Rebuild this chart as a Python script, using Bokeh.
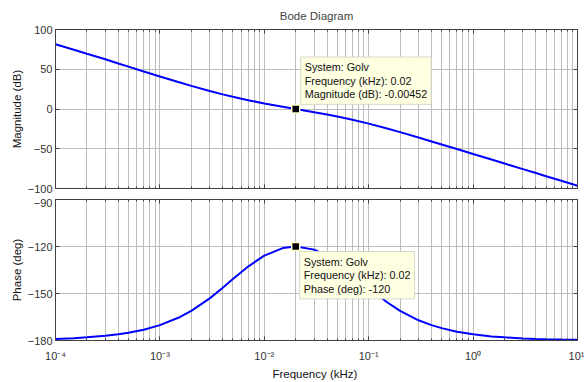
from bokeh.plotting import figure
from bokeh.layouts import column
from bokeh.models import FixedTicker, Label, Range1d, LogAxis, LinearAxis
from bokeh.embed import file_html
from bokeh.resources import INLINE

# ---- data ----
freq_khz = [1e-4, 1.5e-4, 2e-4, 3e-4, 4e-4, 5e-4, 7e-4,
            1e-3, 1.5e-3, 2e-3, 3e-3, 4e-3, 5e-3, 7e-3,
            1e-2, 1.5e-2, 2e-2, 3e-2, 4e-2, 5e-2, 7e-2,
            1e-1, 1.5e-1, 2e-1, 3e-1, 4e-1, 5e-1, 7e-1,
            1.0, 1.5, 2.0, 3.0, 4.0, 5.0, 7.0, 10.0]
magnitude_db = [81.5, 74.5, 69.5, 62.5, 57.3, 53.3, 47.2,
                40.8, 33.9, 29.1, 22.7, 18.4, 15.3, 11.1,
                7.0, 2.9, 0.0, -4.0, -7.0, -9.5, -13.6,
                -18.4, -24.5, -29.1, -35.9, -40.8, -44.6, -50.4,
                -56.6, -63.6, -68.6, -75.6, -80.6, -84.5, -90.3, -96.5]
phase_deg = [-179.0, -178.5, -178.0, -177.0, -176.0, -175.1, -173.1,
             -170.2, -165.5, -161.1, -153.1, -146.3, -140.8, -132.8,
             -125.8, -121.0, -120.0, -122.0, -125.8, -130.0, -137.6,
             -146.4, -155.6, -161.1, -167.1, -170.2, -172.1, -174.4,
             -176.0, -177.4, -178.0, -178.7, -179.0, -179.2, -179.4, -179.6]

x_major = [1e-4, 1e-3, 1e-2, 1e-1, 1.0, 10.0]
x_labels = ["10\u207b\u2074", "10\u207b\u00b3", "10\u207b\u00b2", "10\u207b\u00b9", "10\u2070", "10\u00b9"]
mag_ticks = [-100, -50, 0, 50, 100]
phase_ticks = [-180, -150, -120, -90]

tip_freq = 0.02
tip_mag = -0.00452
tip_phase = -120
tip_mag_text = "System: Golv\nFrequency (kHz): 0.02\nMagnitude (dB): -0.00452"
tip_phase_text = "System: Golv\nFrequency (kHz): 0.02\nPhase (deg): -120"

FONT = "Liberation Sans"
GRID = "#bcbcbc"
AXC = "#404040"
x_minor = [k * d for d in x_major[:-1] for k in range(2, 10)]


def tick_style(ax):
    ax.axis_line_color = AXC
    ax.major_tick_in = 4
    ax.major_tick_out = 0
    ax.minor_tick_in = 2
    ax.minor_tick_out = 0
    ax.major_tick_line_color = AXC
    ax.minor_tick_line_color = AXC


def hide_labels(ax):
    ax.major_label_text_font_size = "1px"
    ax.major_label_text_alpha = 0
    ax.major_label_standoff = 0
    ax.axis_line_color = None


def style(p, ylabel, yticks, show_x_labels):
    p.outline_line_color = AXC
    p.outline_line_width = 1
    p.background_fill_color = "white"
    p.border_fill_color = "white"
    p.xaxis.ticker = FixedTicker(ticks=x_major, minor_ticks=x_minor)
    p.yaxis.ticker = FixedTicker(ticks=yticks)
    for ax in (p.xaxis, p.yaxis):
        tick_style(ax)
        ax.major_label_text_font = FONT
        ax.major_label_text_font_size = "11px"
        ax.major_label_text_color = "#333333"
        ax.axis_label_text_font = FONT
        ax.axis_label_text_font_size = "11.5px"
        ax.axis_label_text_font_style = "normal"
        ax.axis_label_text_color = "#111111"
    p.yaxis.minor_tick_line_color = None
    p.yaxis.major_label_standoff = 3
    p.yaxis.axis_label = ylabel
    p.yaxis.axis_label_standoff = 2
    if show_x_labels:
        p.xaxis.major_label_overrides = {v: s for v, s in zip(x_major, x_labels)}
        p.xaxis.major_label_standoff = 9
        p.xaxis.axis_label = "Frequency  (kHz)"
        p.xaxis.axis_label_standoff = 3
    else:
        hide_labels(p.xaxis)
        p.xaxis.axis_line_color = AXC
    # box ticks on the top and right edges
    top = LogAxis(ticker=FixedTicker(ticks=x_major, minor_ticks=x_minor))
    tick_style(top)
    hide_labels(top)
    p.add_layout(top, "above")
    right = LinearAxis(ticker=FixedTicker(ticks=yticks))
    tick_style(right)
    hide_labels(right)
    right.minor_tick_line_color = None
    p.add_layout(right, "right")
    p.xgrid.grid_line_color = GRID
    p.xgrid.minor_grid_line_color = GRID
    p.ygrid.grid_line_color = GRID


def datatip(x, y, text, dx, dy):
    return Label(x=x, y=y, x_offset=dx, y_offset=dy,
                 text=text, text_font=FONT, text_font_size="10.8px",
                 text_line_height=1.14, text_color="#111111",
                 text_baseline="top", text_align="left",
                 background_fill_color="#ffffe1", background_fill_alpha=1.0,
                 border_line_color="#d8d8c8", padding=4)


p1 = figure(width=584, height=198, x_axis_type="log",
            x_range=Range1d(1e-4, 10), y_range=Range1d(-100, 100),
            output_backend="svg", toolbar_location=None,
            min_border_left=55, min_border_right=7,
            min_border_top=28, min_border_bottom=10)
p1.title.text = "Bode Diagram"
p1.title.align = "center"
p1.title.text_font = FONT
p1.title.text_font_size = "11.5px"
p1.title.text_font_style = "normal"
p1.title.standoff = 15
style(p1, "Magnitude (dB)", mag_ticks, False)
p1.line(freq_khz, magnitude_db, line_color="#0000ff", line_width=2)
p1.scatter([tip_freq], [tip_mag], marker="square", size=8,
           fill_color="black", line_color="#ffffd0", line_width=1.5)
p1.add_layout(datatip(tip_freq, tip_mag, tip_mag_text, 5, 52))

p2 = figure(width=584, height=184, x_axis_type="log",
            x_range=p1.x_range, y_range=Range1d(-180, -90),
            output_backend="svg", toolbar_location=None,
            min_border_left=55, min_border_right=7,
            min_border_top=1, min_border_bottom=42)
style(p2, "Phase (deg)", phase_ticks, True)
p2.line(freq_khz, phase_deg, line_color="#0000ff", line_width=2)
p2.scatter([tip_freq], [tip_phase], marker="square", size=8,
           fill_color="black", line_color="#ffffd0", line_width=1.5)
p2.add_layout(datatip(tip_freq, tip_phase, tip_phase_text, 4, -5))

layout = column(p1, p2, spacing=0)
open("out.html", "w").write(file_html(layout, INLINE))
